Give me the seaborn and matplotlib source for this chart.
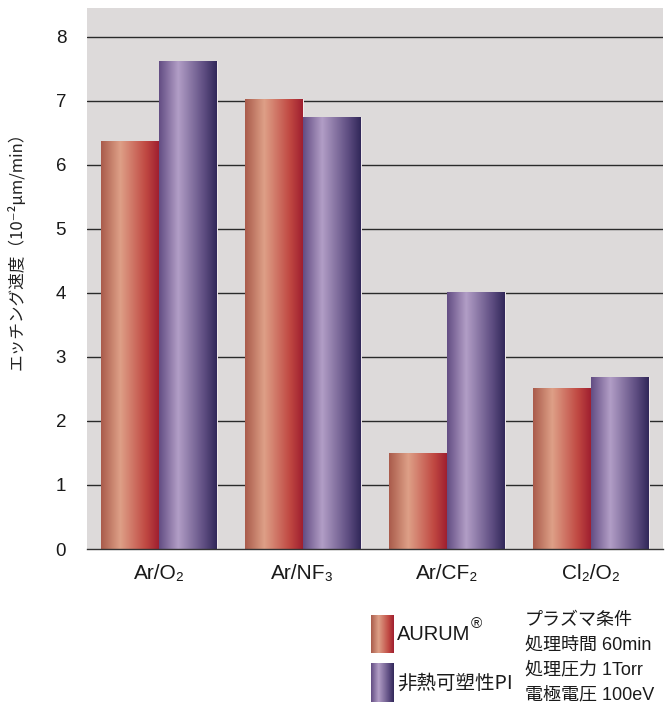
import numpy as np
import pandas as pd
import matplotlib
matplotlib.use("Agg")
import matplotlib.pyplot as plt
import seaborn as sns

# data
gases = ["Ar/O₂", "Ar/NF₃", "Ar/CF₂", "Cl₂/O₂"]
materials = ["AURUM", "非熱可塑性PI"]
aurum_rate = [6.37, 7.03, 1.50, 2.52]
pi_rate = [7.62, 6.74, 4.02, 2.69]
conditions = ["プラズマ条件", "処理時間 60min", "処理圧力 1Torr", "電極電圧 100eV"]

df = pd.DataFrame({
    "gas": gases * 2,
    "material": [materials[0]] * len(gases) + [materials[1]] * len(gases),
    "rate": aurum_rate + pi_rate,
})

# horizontal gradient stops for the "shaded cylinder" bars
grad_stops = {
    "AURUM": [(0.0, (170, 92, 76)), (0.33, (222, 160, 135)), (0.78, (192, 72, 66)), (1.0, (160, 32, 48))],
    "非熱可塑性PI": [(0.0, (100, 78, 132)), (0.33, (178, 158, 198)), (0.78, (95, 78, 130)), (1.0, (50, 40, 90))],
}


def gradient(stops, n=64):
    pos = [s[0] for s in stops]
    cols = np.array([s[1] for s in stops]) / 255.0
    xs = np.linspace(0, 1, n)
    img = np.stack([np.interp(xs, pos, cols[:, k]) for k in range(3)], axis=-1)
    return img[np.newaxis, :, :]


sns.set_theme(style="white")
latin = ["Liberation Sans", "DejaVu Sans"]
jp = ["Noto Sans CJK JP", "DejaVu Sans"]
mixed = ["Liberation Sans", "Noto Sans CJK JP", "DejaVu Sans"]
plt.rcParams["font.family"] = latin

fig = plt.figure(figsize=(6.71, 7.09), dpi=100)
ax = fig.add_axes([87 / 671, 1 - 549 / 709, (663 - 87) / 671, (549 - 8) / 709])
ax.set_facecolor("#dddada")

base_cols = {"AURUM": "#c0705c", "非熱可塑性PI": "#6c5a8c"}
sns.barplot(data=df, x="gas", y="rate", hue="material", hue_order=materials,
            palette=base_cols, width=0.8, legend=False, ax=ax, zorder=3,
            edgecolor="#f2ecec", linewidth=0.7)

for mat, cont in zip(materials, ax.containers):
    img = gradient(grad_stops[mat])
    for bar in cont:
        x0 = bar.get_x()
        w = bar.get_width()
        h = bar.get_height()
        im = ax.imshow(img, extent=[x0, x0 + w, 0, h], aspect="auto",
                       interpolation="bilinear", zorder=3.5)
        im.set_clip_path(bar)

ax.set_xlim(-0.5, 3.5)
ax.set_ylim(0, 8.45)
ax.set_yticks(range(0, 9))
ax.set_aspect("auto")

# gridlines
for y in range(1, 9):
    ax.axhline(y, color="#2a2a2a", lw=1.0, zorder=1)

for s in ["left", "right", "top"]:
    ax.spines[s].set_visible(False)
ax.spines["bottom"].set_color("#333333")
ax.spines["bottom"].set_linewidth(1.0)
ax.spines["bottom"].set_zorder(5)

ax.tick_params(axis="y", which="major", length=5, width=1.0, color="#2a2a2a",
               direction="out", pad=10, labelsize=13.5, labelcolor="#1a1a1a")
ax.set_xticks(range(len(gases)))
ax.set_xticklabels(gases)
ax.set_xticks(np.arange(-0.5, 4.0, 1.0), minor=True)
ax.tick_params(axis="x", which="major", length=0, pad=11, labelsize=15, labelcolor="#1a1a1a")
ax.tick_params(axis="x", which="minor", length=5, width=1.0, color="#333333", direction="in")
ax.set_xlabel("")
ax.set_ylabel("")

fig.text(17 / 671, 1 - 247 / 709, "エッチング速度（10⁻²μm/min）", rotation=90,
         ha="center", va="center", fontsize=12, color="#222222", family=jp)

# legend swatches
sw_pos = [(615, 653), (663, 702)]
for mat, (top, bot) in zip(materials, sw_pos):
    sax = fig.add_axes([371 / 671, 1 - bot / 709, 22 / 671, (bot - top) / 709])
    sax.imshow(gradient(grad_stops[mat]), aspect="auto", interpolation="bilinear")
    sax.axis("off")

fig.text(397 / 671, 1 - 634 / 709, "AURUM", ha="left", va="center", fontsize=14.5,
         color="#1a1a1a", family=latin)
fig.text(471 / 671, 1 - 624 / 709, "®", ha="left", va="center", fontsize=11,
         color="#1a1a1a", family=latin)
fig.text(397 / 671, 1 - 683 / 709, "非熱可塑性PI", ha="left", va="center", fontsize=14,
         color="#1a1a1a", family=jp)

for i, line in enumerate(conditions):
    fig.text(525 / 671, 1 - (621 + 24.5 * i) / 709, line, ha="left", va="center",
             fontsize=13, color="#1a1a1a", family=mixed)

fig.savefig("out.png", dpi=100, facecolor="white")
